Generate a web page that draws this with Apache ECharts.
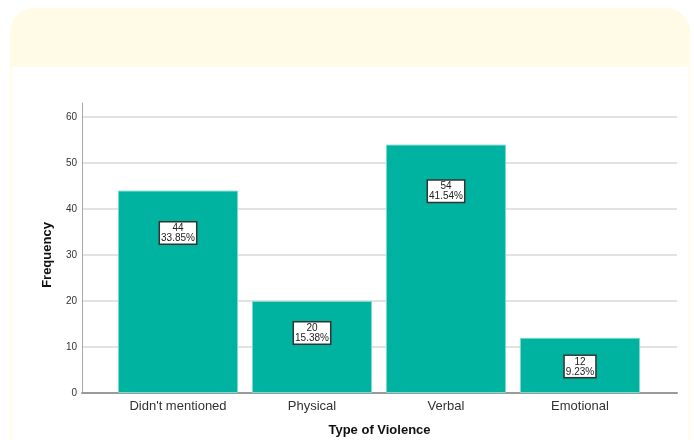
<!DOCTYPE html>
<html>
<head>
<meta charset="utf-8">
<script src="https://cdn.jsdelivr.net/npm/echarts@6/dist/echarts.min.js"></script>
<style>
  html, body { margin: 0; padding: 0; background: #ffffff; overflow: hidden; }
  .card {
    position: absolute; left: 10px; top: 8px; width: 680px; height: 460px;
    background: #fffbe6; border-radius: 24px;
  }
  .panel {
    position: absolute; left: 12px; top: 67px; width: 676px; height: 400px;
    background: #ffffff;
  }
  #chart { position: absolute; left: 0; top: 0; width: 694px; height: 440px; }
</style>
</head>
<body>
<div class="card"></div>
<div class="panel"></div>
<div id="chart"></div>
<script>
var categories = ["Didn't mentioned", 'Physical', 'Verbal', 'Emotional'];
var counts = [44, 20, 54, 12];
var yTicks = [0, 10, 20, 30, 40, 50, 60];

var total = counts.reduce(function (a, b) { return a + b; }, 0);
var teal = '#00b2a0';

var myChart = echarts.init(document.getElementById('chart'));
myChart.setOption({
  animation: false,
  backgroundColor: 'transparent',
  grid: [
    // axis lines
    { left: 82, top: 103, width: 595, height: 290, outerBoundsMode: 'none' },
    // value labels + gridlines
    { left: 82, top: 117, width: 595, height: 276, outerBoundsMode: 'none' },
    // bars
    { left: 111, top: 117, width: 536, height: 276, outerBoundsMode: 'none' }
  ],
  xAxis: [
    {
      gridIndex: 0, type: 'value', min: 0, max: 1,
      axisLine: { show: true, onZero: false, lineStyle: { color: '#9a9a9a', width: 2 } },
      axisTick: { show: false }, axisLabel: { show: false }, splitLine: { show: false },
      name: 'Type of Violence', nameLocation: 'middle', nameGap: 31,
      nameTextStyle: { fontFamily: 'Liberation Sans', fontWeight: 'bold', fontSize: 13, color: '#111' }
    },
    {
      gridIndex: 1, type: 'value', min: 0, max: 1, show: false
    },
    {
      gridIndex: 2, type: 'category', data: categories,
      axisLine: { show: false }, axisTick: { show: false },
      axisLabel: { margin: 7, fontFamily: 'Liberation Sans', fontSize: 13, color: '#333' }
    }
  ],
  yAxis: [
    {
      gridIndex: 0, type: 'value', min: 0, max: 63,
      axisLine: { show: true, onZero: false, lineStyle: { color: '#aaaaaa', width: 1 } },
      axisTick: { show: false }, axisLabel: { show: false }, splitLine: { show: false }
    },
    {
      gridIndex: 1, type: 'value', min: yTicks[0], max: yTicks[yTicks.length - 1], interval: 10,
      axisLine: { show: false }, axisTick: { show: false },
      axisLabel: { margin: 5, fontFamily: 'Liberation Sans', fontSize: 10, color: '#333' },
      splitLine: { show: true, lineStyle: { color: '#d9d9d9', width: 1.5 } },
      name: 'Frequency', nameLocation: 'middle', nameGap: 28,
      nameTextStyle: { fontFamily: 'Liberation Sans', fontWeight: 'bold', fontSize: 13, color: '#111' }
    },
    {
      gridIndex: 2, type: 'value', min: yTicks[0], max: yTicks[yTicks.length - 1], show: false
    }
  ],
  series: [{
    type: 'bar',
    xAxisIndex: 2,
    yAxisIndex: 2,
    data: counts,
    barCategoryGap: '10.4%',
    itemStyle: { color: teal, borderColor: '#7fd8cf', borderWidth: 1 },
    label: {
      show: true,
      position: ['50%', '9.3%'],
      offset: [0, 13],
      align: 'center',
      verticalAlign: 'top',
      formatter: function (p) {
        return p.value + '\n' + (p.value / total * 100).toFixed(2) + '%';
      },
      fontFamily: 'Liberation Sans',
      fontSize: 10,
      lineHeight: 10,
      color: '#222',
      backgroundColor: '#ffffff',
      borderColor: '#333333',
      borderWidth: 1.5,
      padding: [1, 1, 0, 1]
    }
  }]
});
</script>
</body>
</html>
